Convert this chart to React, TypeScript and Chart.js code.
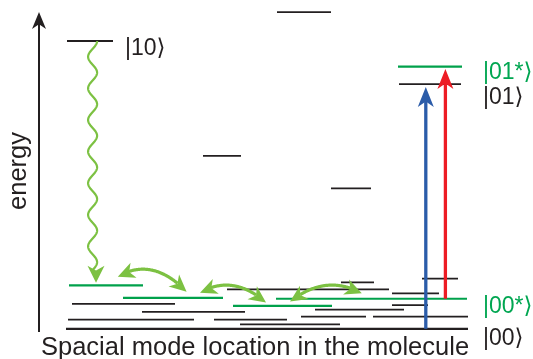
import React, { useEffect, useRef } from "react";
import { Chart, registerables } from "chart.js";

Chart.register(...registerables);

// Vibrational levels of the ground electronic state: [start, end, energy]
// start/end are positions along the molecule, energy in arbitrary units.
const groundLevels: [number, number, number][] = [
  [7, 18.5, 90], // |10>
  [59.5, 73, 99],
  [41, 50.5, 54.1],
  [73, 83, 43.9],
  [90, 105.5, 76.5], // |01>
  [95.75, 104.75, 15.7],
  [75.5, 83.75, 14.5],
  [47, 87.5, 12.3],
  [88.25, 100, 11.1],
  [8.25, 34, 7.8],
  [88.25, 97.25, 7.4],
  [69, 91.25, 6.0],
  [25.75, 51.5, 5.3],
  [65.5, 81.75, 3.8],
  [83.5, 107.25, 3.8],
  [7.25, 38.75, 2.9],
  [43.75, 62, 2.9],
  [50.25, 75.25, 1.4],
  [6.75, 107.25, 0], // |00>
];

// Levels reached in the excited / relaxed manifold
const excitedLevels: [number, number, number][] = [
  [7.5, 26, 13.6],
  [21, 46, 9.7],
  [48.5, 73.25, 7.2],
  [59.25, 107, 9.4], // |00*>
  [89.75, 105.75, 82], // |01*>
];

// Ket labels with the energy of the level they name
const ketText = ["|10⟩", "|01*⟩", "|01⟩", "|00*⟩", "|00⟩"];
const ketEnergy = [90, 82, 76.5, 9.4, 0];
const ketExcited = [false, true, false, true, false];

// Vertical excitation arrows: [position, from energy, to energy]
const pumpBlue: [number, number, number] = [96.7, 0, 75.6];
const pumpRed: [number, number, number] = [101.6, 9.4, 81.2];

// Relaxation from |10> down into the localized levels: [position, from, to]
const relaxation: [number, number, number] = [13.4, 90, 14.4];

// Energy transfer between neighbouring sites: [x from, E from, x to, E to]
const transfers: [number, number, number, number][] = [
  [19.7, 16.3, 36.9, 11.6],
  [40.25, 11.3, 56.75, 8.2],
  [62.75, 8.5, 80.7, 11.1],
];

const BLACK = "#231f20";
const LEVEL_GREEN = "#00a14b";
const LABEL_GREEN = "#00a651";
const LIGHT_GREEN = "#7cc142";
const BLUE = "#2b5ca9";
const RED = "#ed1c24";
const FONT = '"Liberation Sans", Arial, "DejaVu Sans", sans-serif';

function arrowHead(
  ctx: CanvasRenderingContext2D,
  tipX: number,
  tipY: number,
  dirX: number,
  dirY: number,
  len: number,
  half: number,
  color: string
) {
  const n = Math.hypot(dirX, dirY) || 1;
  const ux = dirX / n;
  const uy = dirY / n;
  const bx = tipX - ux * len;
  const by = tipY - uy * len;
  const nx = -uy;
  const ny = ux;
  ctx.beginPath();
  ctx.moveTo(tipX, tipY);
  ctx.lineTo(bx + nx * half, by + ny * half);
  ctx.lineTo(tipX - ux * len * 0.72, tipY - uy * len * 0.72);
  ctx.lineTo(bx - nx * half, by - ny * half);
  ctx.closePath();
  ctx.fillStyle = color;
  ctx.fill();
}

function straightArrow(
  ctx: CanvasRenderingContext2D,
  x: number,
  y0: number,
  y1: number,
  color: string
) {
  const len = 20;
  ctx.strokeStyle = color;
  ctx.lineWidth = 3.3;
  ctx.lineCap = "butt";
  ctx.beginPath();
  ctx.moveTo(x, y0);
  ctx.lineTo(x, y1 + len * 0.7);
  ctx.stroke();
  arrowHead(ctx, x, y1, 0, -1, len, 8, color);
}

function curvedArrow(
  ctx: CanvasRenderingContext2D,
  x0: number,
  y0: number,
  x1: number,
  y1: number,
  bulge: number
) {
  const cx = (x0 + x1) / 2;
  const cy = (y0 + y1) / 2 - bulge * 2;
  const pts: [number, number][] = [];
  const N = 120;
  for (let i = 0; i <= N; i++) {
    const t = i / N;
    const a = (1 - t) * (1 - t);
    const b = 2 * (1 - t) * t;
    const c = t * t;
    pts.push([a * x0 + b * cx + c * x1, a * y0 + b * cy + c * y1]);
  }
  const len = 17;
  const half = 8;
  const dist = (p: [number, number], qx: number, qy: number) =>
    Math.hypot(p[0] - qx, p[1] - qy);
  let iStart = 0;
  while (iStart < N && dist(pts[iStart], x0, y0) < len * 0.7) iStart++;
  let iEnd = N;
  while (iEnd > 0 && dist(pts[iEnd], x1, y1) < len * 0.7) iEnd--;
  let iHead0 = 0;
  while (iHead0 < N && dist(pts[iHead0], x0, y0) < len) iHead0++;
  let iHead1 = N;
  while (iHead1 > 0 && dist(pts[iHead1], x1, y1) < len) iHead1--;

  ctx.strokeStyle = LIGHT_GREEN;
  ctx.lineWidth = 3.2;
  ctx.lineCap = "butt";
  ctx.beginPath();
  ctx.moveTo(pts[iStart][0], pts[iStart][1]);
  for (let i = iStart + 1; i <= iEnd; i++) ctx.lineTo(pts[i][0], pts[i][1]);
  ctx.stroke();
  arrowHead(ctx, x0, y0, x0 - pts[iHead0][0], y0 - pts[iHead0][1], len, half, LIGHT_GREEN);
  arrowHead(ctx, x1, y1, x1 - pts[iHead1][0], y1 - pts[iHead1][1], len, half, LIGHT_GREEN);
}

const overlay = {
  id: "diagramOverlay",
  afterDatasetsDraw(chart: any) {
    const { ctx, chartArea, scales } = chart;
    const px = (v: number) => scales.x.getPixelForValue(v);
    const py = (v: number) => scales.y.getPixelForValue(v);
    ctx.save();

    // energy axis
    const axX = chartArea.left;
    const axTop = chartArea.top + 3;
    ctx.strokeStyle = BLACK;
    ctx.lineWidth = 2;
    ctx.beginPath();
    ctx.moveTo(axX, chartArea.bottom);
    ctx.lineTo(axX, axTop + 12);
    ctx.stroke();
    arrowHead(ctx, axX, axTop, 0, -1, 17, 7, BLACK);

    // wavy relaxation arrow
    const [wx, wFrom, wTo] = relaxation;
    const cx = px(wx);
    const yTop = py(wFrom);
    const yTip = py(wTo);
    const headLen = 17;
    const yBase = yTip - headLen;
    const amp = 4.5;
    const period = 31.6;
    ctx.strokeStyle = LIGHT_GREEN;
    ctx.lineWidth = 2.2;
    ctx.beginPath();
    for (let yy = yTop; yy <= yBase + headLen * 0.3; yy += 0.5) {
      const xx = cx + amp * Math.cos((2 * Math.PI * (yy - yTop)) / period);
      if (yy === yTop) ctx.moveTo(xx, yy);
      else ctx.lineTo(xx, yy);
    }
    ctx.stroke();
    const xb = cx + amp * Math.cos((2 * Math.PI * (yBase - yTop)) / period);
    arrowHead(ctx, xb, yTip, 0, 1, headLen, 8.5, LIGHT_GREEN);

    // energy transfer arrows
    for (const [a, b, c, d] of transfers) {
      const x0 = px(a);
      const y0 = py(b);
      const x1 = px(c);
      const y1 = py(d);
      const bulge = a < 30 ? 14 : 12;
      curvedArrow(ctx, x0, y0, x1, y1, bulge);
    }

    // optical excitation
    straightArrow(ctx, px(pumpBlue[0]), py(pumpBlue[1]), py(pumpBlue[2]), BLUE);
    straightArrow(ctx, px(pumpRed[0]), py(pumpRed[1]), py(pumpRed[2]), RED);

    // ket labels
    ctx.font = `23px ${FONT}`;
    ctx.textAlign = "left";
    ctx.textBaseline = "alphabetic";
    const dy = [14, 12.5, 20, 14.5, 16];
    ketText.forEach((t, i) => {
      const lx = i === 0 ? 125 : 483;
      ctx.fillStyle = ketExcited[i] ? LABEL_GREEN : BLACK;
      ctx.fillText(t, lx, py(ketEnergy[i]) + dy[i]);
    });

    // axis titles
    ctx.fillStyle = BLACK;
    ctx.font = `25.5px ${FONT}`;
    ctx.textAlign = "left";
    ctx.fillText("Spacial mode location in the molecule", 41, 355);
    ctx.save();
    ctx.translate(26, 171);
    ctx.rotate(-Math.PI / 2);
    ctx.textAlign = "center";
    ctx.fillText("energy", 0, 0);
    ctx.restore();

    ctx.restore();
  },
};

function levelDataset(level: [number, number, number], color: string, width: number) {
  return {
    data: [
      { x: level[0], y: level[2] },
      { x: level[1], y: level[2] },
    ],
    showLine: true,
    borderColor: color,
    borderWidth: width,
    borderCapStyle: "butt" as const,
    pointRadius: 0,
    fill: false,
    clip: false as const,
  };
}

export default function App() {
  const canvasRef = useRef<HTMLCanvasElement | null>(null);

  useEffect(() => {
    const canvas = canvasRef.current;
    if (!canvas) return;
    const datasets = [
      ...groundLevels.map((l) => levelDataset(l, BLACK, l[2] === 0 ? 2.2 : 1.8)),
      ...excitedLevels.map((l) => levelDataset(l, LEVEL_GREEN, 2.2)),
    ];
    const chart = new Chart(canvas, {
      type: "scatter",
      data: { datasets },
      options: {
        animation: false,
        responsive: false,
        maintainAspectRatio: false,
        devicePixelRatio: 1,
        events: [],
        layout: { padding: { left: 39, right: 62, top: 9, bottom: 27 } },
        scales: {
          x: { type: "linear", min: 0, max: 108, display: false },
          y: { type: "linear", min: -1, max: 100, display: false },
        },
        plugins: {
          legend: { display: false },
          tooltip: { enabled: false },
        },
      },
      plugins: [overlay],
    });
    return () => chart.destroy();
  }, []);

  return (
    <div style={{ position: "absolute", left: 0, top: 0, width: 533, height: 359, background: "#fff" }}>
      <canvas ref={canvasRef} width={533} height={359} />
    </div>
  );
}
